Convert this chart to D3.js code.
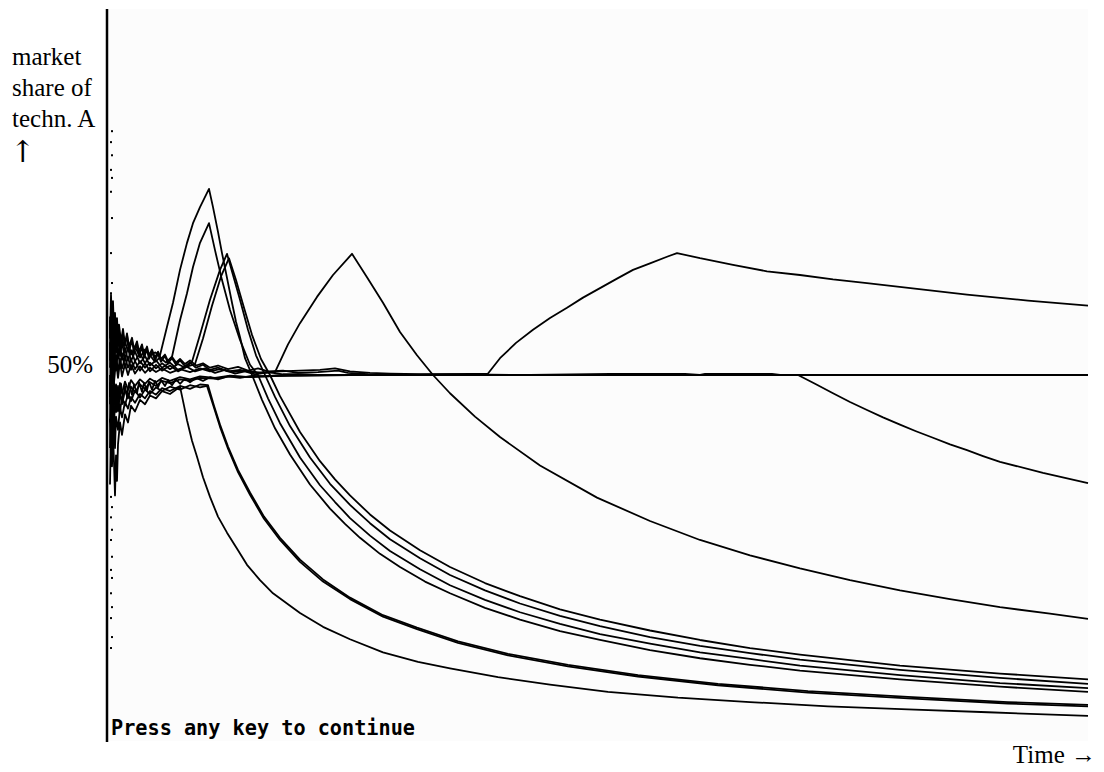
<!DOCTYPE html>
<html>
<head>
<meta charset="utf-8">
<script src="https://cdn.jsdelivr.net/npm/d3@7"></script>
<style>
  body { margin: 0; background: #fff; }
  svg { display: block; }
</style>
</head>
<body>
<div id="visualization"></div>
<script>
// market share of technology A per run, [time, share %]
const runA = [[2,57.5],[3,53.0],[4,58.2],[5,55.0],[6,56.8],[8,53.5],[10,55.9],[12,54.1],[14,55.3],[17,53.2],[20,54.6],[23,52.8],[27,53.9],[32,52.4],[37,53.5],[42,52.6],[47,53.1],[52,52.7],
  [59,56.6],[65,59.9],[72,64.4],[79,68.1],[85,70.8],[92,73.0],[101,75.5],
  [105,73.0],[110,69.6],[114,66.7],[119,63.3],[124,59.9],[128,57.3],[132,55.2],[137,52.3],[144,50.0],
  [154,46.6],[167,42.7],[182,39.1],[202,35.0],[222,31.7],[237,29.6],[252,27.7],[272,25.5],[292,23.7],[317,21.7],[342,20.1],[377,18.1],[412,16.5],[452,14.9],[492,13.7],[542,12.3],[592,11.2],[642,10.3],[692,9.5],[792,8.3],[892,7.3],[980,6.6]];

const runB = [[2,51.0],[3,56.5],[4,52.3],[5,54.9],[6,51.8],[8,55.2],[10,52.7],[12,54.4],[14,52.1],[17,53.6],[20,52.0],[23,53.4],[27,51.9],[32,53.0],[37,51.6],[42,52.7],[47,51.8],[52,52.4],[58,51.7],[64,52.5],
  [72,57.5],[79,61.2],[85,64.8],[92,68.1],[101,70.8],
  [107,67.1],[114,63.0],[122,58.9],[132,54.8],[142,51.4],[150,50.0],
  [160,46.8],[172,43.4],[192,38.7],[212,34.9],[227,32.6],[242,30.4],[262,28.0],[282,25.9],[312,23.4],[342,21.2],[377,19.2],[412,17.5],[452,15.9],[492,14.5],[542,13.2],[592,12.0],[642,11.1],[692,10.2],[792,8.9],[892,7.8],[980,7.1]];

const runC = [[2,46.0],[3,52.5],[4,49.0],[5,53.1],[6,50.2],[8,52.8],[10,50.5],[12,52.2],[14,50.9],[17,52.4],[20,51.0],[23,52.1],[27,50.8],[32,51.9],[37,51.0],[42,51.7],[48,50.9],[54,51.6],[62,50.8],[70,51.5],[77,51.0],[84,51.8],
  [92,55.5],[102,60.3],[112,64.4],[119,66.6],
  [125,63.7],[132,60.3],[140,56.2],[148,52.7],[157,50.0],
  [167,47.0],[182,43.0],[202,38.7],[222,35.1],[242,32.2],[262,29.7],[282,27.5],[312,24.9],[342,22.6],[377,20.5],[412,18.7],[452,17.0],[492,15.6],[542,14.1],[592,12.9],[642,11.9],[692,11.0],[792,9.6],[892,8.5],[980,7.7]];

const runD = [[2,54.5],[3,49.5],[4,55.8],[5,51.3],[6,54.0],[8,50.6],[10,53.3],[12,51.2],[14,53.0],[17,51.0],[20,52.5],[23,50.7],[27,51.9],[32,50.6],[37,51.6],[42,50.5],[48,51.4],[54,50.6],[62,51.3],[70,50.5],[78,51.1],[87,51.5],
  [95,55.0],[104,59.5],[113,63.5],[121,66.0],
  [128,63.0],[136,59.2],[144,55.5],[153,52.2],[162,50.0],
  [172,47.1],[192,42.2],[212,38.2],[227,35.7],[242,33.5],[262,30.9],[282,28.7],[312,26.0],[342,23.7],[377,21.5],[412,19.7],[452,17.9],[492,16.5],[542,15.0],[592,13.7],[642,12.6],[692,11.7],[792,10.2],[892,9.1],[980,8.3]];

const runE = [[2,58.0],[3,50.5],[4,56.0],[5,52.0],[6,57.5],[8,53.0],[10,55.2],[12,52.6],[14,54.5],[17,52.1],[20,53.8],[23,51.9],[27,53.2],[32,51.6],[37,52.6],[42,51.3],[48,52.0],[54,51.0],[62,51.7],[70,50.7],[78,51.2],[87,50.5],[97,50.9],[107,50.3],[117,50.7],[127,50.2],[137,50.5],[147,50.1],[157,50.3],[167,50.4],
  [180,54.2],[192,57.1],[209,60.7],[225,63.7],[244,66.6],
  [259,63.4],[275,59.9],[292,55.9],[309,52.7],[325,50.0],
  [342,47.5],[367,44.3],[392,41.5],[432,37.6],[489,33.2],[542,30.0],[592,27.4],[642,25.3],[692,23.5],[742,21.9],[792,20.5],[842,19.3],[892,18.2],[942,17.3],[980,16.6]];

const runF = [[2,47.0],[3,53.8],[4,48.5],[5,52.6],[6,49.0],[8,52.0],[10,49.6],[12,51.8],[14,49.8],[17,51.5],[20,50.0],[23,51.4],[27,50.2],[32,51.2],[37,50.3],[42,51.0],[48,50.4],[54,50.9],[62,50.3],[72,50.8],[82,50.4],[92,50.9],[102,50.5],[112,50.8],[124,50.4],[137,50.6],[152,50.3],[172,50.5],[192,50.6],[212,50.7],[227,50.9],[242,50.5],[262,50.3],[282,50.2],[312,50.1],[342,50.1],[380,50.2],
  [392,52.3],[408,54.4],[425,56.2],[442,57.8],[459,59.2],[475,60.6],[492,61.9],[509,63.2],[525,64.4],[542,65.3],[559,66.2],[569,66.7],
  [592,66.0],[625,65.1],[659,64.2],[692,63.7],[725,63.1],[759,62.6],[809,61.8],[859,61.0],[920,60.2],[980,59.5]];

const runG = [[2,43.5],[3,49.0],[4,45.2],[5,48.1],[6,46.0],[8,48.7],[10,46.8],[12,48.9],[14,47.5],[17,49.1],[20,48.0],[23,49.3],[27,48.5],[32,49.4],[37,48.8],[42,49.5],[48,49.0],[54,49.6],[62,49.2],[72,49.7],[82,49.4],[92,49.8],[107,49.6],[122,49.9],[142,49.7],[167,49.9],[192,50.0],[292,50.0],[342,50.1],[422,50.0],[502,50.15],[577,50.15],[592,50.0],[597,50.15],[664,50.15],[672,50.0],[690,50.0],
  [707,48.8],[725,47.5],[742,46.3],[759,45.2],[775,44.2],[792,43.2],[808,42.3],[825,41.4],[842,40.5],[859,39.7],[875,38.9],[892,38.1],[935,36.6],[980,35.2]];

const runH = [[2,40.0],[3,47.5],[4,42.0],[5,46.5],[6,43.8],[8,47.2],[10,45.0],[12,47.6],[14,46.0],[17,48.0],[20,46.8],[23,48.4],[27,47.6],[32,48.7],[37,48.1],[42,49.0],[48,48.5],[54,49.2],[62,48.9],[72,49.4],[82,49.2],[92,49.6],[107,49.5],[122,49.8],[142,49.7],[167,49.9],[192,49.9],[242,50.0],[980,50.0]];

const runJ = [[2,44.0],[3,38.5],[4,45.5],[5,41.0],[6,45.0],[7,40.0],[8,44.3],[10,42.5],[12,45.6],[14,44.2],[17,46.3],[20,45.4],[23,47.0],[27,46.2],[32,47.4],[37,46.8],[42,47.8],[48,47.3],[54,48.2],[62,47.8],[72,48.5],[82,48.1],[92,48.7],[100,48.6],
  [106,45.8],[112,43.2],[120,40.2],[130,37.0],[142,33.9],[156,30.6],[172,27.7],[192,24.7],[215,22.0],[242,19.5],[275,17.1],[309,15.4],[350,13.5],[400,11.8],[460,10.3],[530,8.9],[610,7.7],[700,6.7],[800,5.9],[900,5.2],[980,4.8]];

const runJ2 = [[2,49.0],[3,42.0],[4,47.0],[5,43.5],[6,47.8],[8,44.9],[10,47.2],[12,45.0],[14,47.0],[17,45.8],[20,47.5],[23,46.4],[27,47.9],[32,46.9],[37,48.0],[42,47.4],[48,48.3],[54,47.8],[62,48.4],[72,48.0],[82,48.6],[92,48.3],[99,48.5],
  [106,45.5],[112,42.9],[120,39.9],[130,36.7],[142,33.6],[156,30.3],[172,27.4],[192,24.4],[215,21.7],[242,19.3],[275,16.9],[309,15.2],[350,13.3],[400,11.6],[460,10.1],[530,8.7],[610,7.5],[700,6.5],[800,5.7],[900,5.0],[980,4.6]];

const runK = [[2,35.0],[3,43.0],[4,37.5],[5,42.0],[6,38.0],[7,33.5],[8,39.0],[9,35.5],[10,40.5],[12,43.5],[14,41.8],[17,44.6],[20,43.5],[23,45.8],[27,45.0],[32,46.6],[37,46.0],[42,47.2],[48,46.8],[54,47.8],[62,47.4],[72,48.4],
  [76,45.8],[79,43.8],[84,41.0],[89,38.8],[95,36.0],[102,33.3],[110,30.6],[119,28.4],[130,26.0],[139,24.0],[152,21.9],[165,20.1],[180,18.6],[192,17.4],[215,15.5],[242,13.8],[275,12.0],[310,10.7],[342,9.8],[390,8.6],[442,7.6],[500,6.6],[570,5.8],[642,5.2],[720,4.6],[800,4.2],[880,3.8],[980,3.3]];

const runL = [[2,52.0],[3,59.0],[4,54.0],[5,57.0],[6,53.5],[7,56.5],[8,54.8],[9,57.2],[10,54.0],[11,56.0],[13,53.6],[15,55.6],[17,54.0],[19,55.5],[21,53.2],[24,54.8],[26,53.0],[29,54.3],[31,52.6],[34,53.8],[36,52.4],[39,53.5],[41,52.2],[44,53.2],[47,52.0],[50,52.9],[53,51.8],[57,52.6],[60,51.6],[64,52.3],[68,51.4],[72,52.0],[77,51.2],[82,51.7],[88,51.0],[95,51.4],[102,50.7],[110,51.0],[120,50.5],[132,50.7],[145,50.3],[160,50.4],[175,50.1],[190,50.1],[210,50.0],[980,50.0]];

const runM = [[2,50.0],[3,44.5],[4,48.6],[5,45.4],[6,49.2],[7,46.0],[8,48.2],[9,45.8],[10,48.5],[11,46.4],[13,48.8],[15,46.6],[17,48.5],[19,47.0],[21,48.9],[24,47.3],[26,48.7],[29,47.5],[31,49.0],[34,47.7],[36,48.9],[39,47.9],[41,49.1],[44,48.0],[47,49.2],[50,48.3],[53,49.3],[57,48.5],[60,49.3],[64,48.6],[68,49.4],[72,48.8],[77,49.5],[82,49.0],[88,49.6],[95,49.2],[102,49.7],[110,49.4],[120,49.8],[132,49.6],[145,49.9],[160,49.8],[180,50.0],[980,50.0]];

const runN = [[2,55.0],[3,61.0],[4,57.2],[5,60.1],[6,56.0],[7,58.5],[8,55.4],[9,57.8],[10,55.0],[11,56.9],[13,54.6],[15,56.3],[17,54.2],[19,55.7],[21,53.9],[24,55.1],[26,53.5],[29,54.6],[31,53.2],[34,54.2],[36,52.9],[39,53.9],[41,52.7],[44,53.5],[47,52.4],[50,53.2],[53,52.2],[57,52.8],[60,51.9],[64,52.5],[68,51.7],[72,52.2],[77,51.5],[82,52.0],[88,51.3],[95,51.6],[102,51.0],[110,51.3],[120,50.8],[130,51.1],[140,50.6],[150,50.9],[160,50.5],[175,50.6],[190,50.3],[210,50.4],[230,50.6],[240,50.3],[260,50.1],[300,50.0],[980,50.0]];

const runs = [runA, runB, runC, runD, runE, runF, runG, runH, runJ, runJ2, runK, runL, runM, runN];

// shares after the very first steps (drawn as points)
const firstSteps = [83.4, 81.9, 80.1, 78.1, 77.0, 75.1, 71.5, 66.7, 62.6, 61.2, 60.0,
  33.3, 31.9, 30.5, 28.8, 27.4, 25.1, 23.3, 22.2, 20.1, 18.2, 16.7, 14.1, 12.6];

const yTicks = [50];
const yLabel = ["market", "share of", "techn. A"];
const yArrow = "\u2191";
const xLabel = "Time \u2192";
const prompt = "Press any key to continue";

const width = 1104;
const height = 772;
const margin = {top: 10, bottom: 32, right: 16, left: 108};

const svg = d3.select("#visualization").append("svg")
  .attr("width", width)
  .attr("height", height)
  .attr("viewBox", [0, 0, width, height]);

const scaleX = d3.scaleLinear()
  .domain([0, 980])
  .range([margin.left, width - margin.right]);
const scaleY = d3.scaleLinear()
  .domain([0, 100])
  .range([height - margin.bottom, margin.top]);

svg.append("rect")
  .attr("x", margin.left)
  .attr("y", margin.top - 1)
  .attr("width", width - margin.right - margin.left)
  .attr("height", height - margin.bottom - margin.top + 2)
  .attr("fill", "#fcfcfc");

const line = d3.line()
  .x(d => scaleX(d[0]))
  .y(d => scaleY(d[1]));

svg.append("g")
  .selectAll("path")
  .data(runs)
  .join("path")
  .attr("d", line)
  .attr("fill", "none")
  .attr("stroke", "#000")
  .attr("stroke-width", 1.8)
  .attr("stroke-linejoin", "round");

svg.append("g")
  .selectAll("rect")
  .data(firstSteps)
  .join("rect")
  .attr("x", (d, i) => scaleX(i % 2 ? 3 : 4) - 1)
  .attr("y", d => scaleY(d) - 1)
  .attr("width", 2)
  .attr("height", 2)
  .attr("fill", "#000");

// y axis: plain line with the 50% label
const axis = svg.append("g")
  .attr("transform", `translate(${margin.left - 1}, 0)`)
  .call(d3.axisLeft(scaleY).tickValues(yTicks).tickSize(0).tickPadding(14).tickFormat(d => d + "%"));
axis.select(".domain")
  .attr("stroke", "#000")
  .attr("stroke-width", 2.5)
  .attr("d", `M0,${margin.top - 1}V${height - margin.bottom + 2}`);
axis.selectAll(".tick text")
  .attr("font-family", "'Liberation Serif', 'Times New Roman', serif")
  .attr("font-size", 25)
  .attr("fill", "#000")
  .attr("dy", "-0.12em");

svg.append("text")
  .attr("font-family", "'Liberation Serif', 'Times New Roman', serif")
  .attr("font-size", 25)
  .selectAll("tspan")
  .data(yLabel)
  .join("tspan")
  .attr("x", 12)
  .attr("y", (d, i) => 65 + i * 31)
  .text(d => d);

svg.append("text")
  .attr("x", 10)
  .attr("y", 162)
  .attr("font-family", "'DejaVu Serif', serif")
  .attr("font-size", 30)
  .attr("font-weight", 300)
  .text(yArrow);

svg.append("text")
  .attr("x", 1096)
  .attr("y", 763)
  .attr("text-anchor", "end")
  .attr("font-family", "'Liberation Serif', 'Times New Roman', serif")
  .attr("font-size", 25)
  .text(xLabel);

svg.append("text")
  .attr("x", 111)
  .attr("y", 735)
  .attr("font-family", "'DejaVu Sans Mono', monospace")
  .attr("font-weight", "bold")
  .attr("font-size", 22)
  .attr("textLength", 304)
  .attr("lengthAdjust", "spacingAndGlyphs")
  .text(prompt);
</script>
</body>
</html>
